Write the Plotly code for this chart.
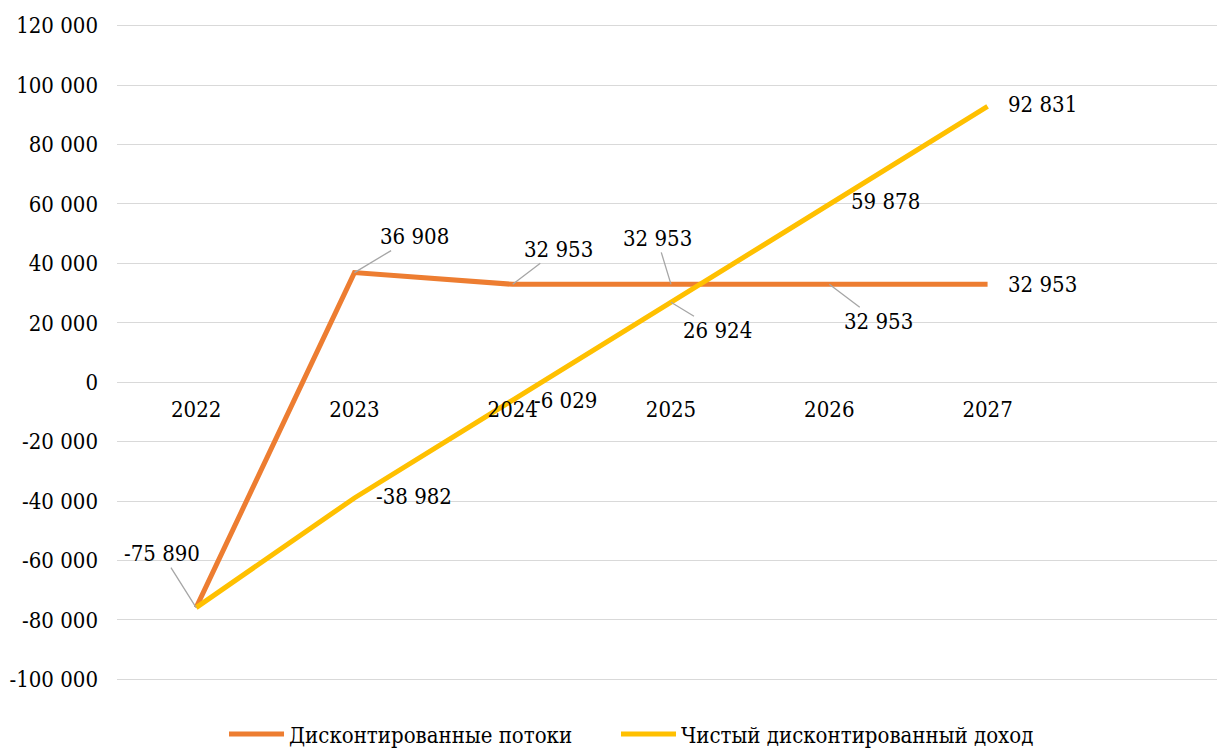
import plotly.graph_objects as go

years = [2022, 2023, 2024, 2025, 2026, 2027]
discounted_flows = [-75890, 36908, 32953, 32953, 32953, 32953]
npv = [-75890, -38982, -6029, 26924, 59878, 92831]
series_names = ["Дисконтированные потоки", "Чистый дисконтированный доход"]
y_tick_vals = [120000, 100000, 80000, 60000, 40000, 20000, 0, -20000, -40000, -60000, -80000, -100000]
y_tick_text = ["120 000", "100 000", "80 000", "60 000", "40 000", "20 000", "0",
               "-20 000", "-40 000", "-60 000", "-80 000", "-100 000"]

ORANGE = "#ED7D31"
YELLOW = "#FFC000"
FONT = "DejaVu Serif Condensed, DejaVu Serif"
FS = 22


def fmt(v):
    return f"{v:,}".replace(",", " ")


fig = go.Figure()
fig.add_trace(go.Scatter(x=years, y=discounted_flows, mode="lines", name=series_names[0],
                         line=dict(color=ORANGE, width=5), legend="legend"))
fig.add_trace(go.Scatter(x=years, y=npv, mode="lines", name=series_names[1],
                         line=dict(color=YELLOW, width=5), legend="legend2"))

orange_offsets = [(-34, -54, True), (60, -36, True), (46, -35, True), (-14, -46, True),
                  (49, 37, True), (55, 0, False)]
for x, v, (ax, ay, arr) in zip(years, discounted_flows, orange_offsets):
    if arr:
        fig.add_annotation(x=x, y=v, text=fmt(v), showarrow=True, arrowhead=0,
                           arrowcolor="#a6a6a6", arrowwidth=1.3, ax=ax, ay=ay,
                           font=dict(family=FONT, size=FS, color="#000"))
    else:
        fig.add_annotation(x=x, y=v, text=fmt(v), showarrow=False, xshift=ax, yshift=-ay,
                           font=dict(family=FONT, size=FS, color="#000"))

yellow_offsets = [None, (60, -1, False), (53, 0, False), (46, 28, True), (56, -3, False), (55, -2, False)]
for x, v, off in zip(years, npv, yellow_offsets):
    if off is None:
        continue
    ax, ay, arr = off
    if arr:
        fig.add_annotation(x=x, y=v, text=fmt(v), showarrow=True, arrowhead=0,
                           arrowcolor="#a6a6a6", arrowwidth=1.3, ax=ax, ay=ay,
                           font=dict(family=FONT, size=FS, color="#000"))
    else:
        fig.add_annotation(x=x, y=v, text=fmt(v), showarrow=False, xshift=ax, yshift=-ay,
                           font=dict(family=FONT, size=FS, color="#000"))

legend_common = dict(orientation="h", xref="container", yref="container", xanchor="left",
                     y=0.02, yanchor="middle", itemwidth=55,
                     font=dict(family=FONT, size=FS, color="#000"), bgcolor="rgba(0,0,0,0)")

ymin, ymax = -100600, 120600
fig.update_layout(
    width=1217, height=741,
    margin=dict(l=109, r=0, t=16, b=68, autoexpand=False),
    paper_bgcolor="white", plot_bgcolor="white",
    font=dict(family=FONT, size=FS, color="#000"),
    showlegend=True,
    legend=dict(x=0.1775, **legend_common),
    legend2=dict(x=0.4996, **legend_common),
    xaxis=dict(range=[2021.5, 2028.5], tickvals=years, ticktext=[str(y) for y in years],
               showgrid=False, zeroline=False, showline=False, ticks="",
               anchor="free", position=(0 - ymin) / (ymax - ymin), automargin=False,
               ticklabelstandoff=12, tickfont=dict(family=FONT, size=FS, color="#000")),
    yaxis=dict(range=[ymin, ymax], tickvals=y_tick_vals, ticktext=y_tick_text,
               showgrid=True, gridcolor="#d9d9d9", gridwidth=1.3, zeroline=False,
               showline=False, ticks="", ticklabelstandoff=18, automargin=False,
               tickfont=dict(family=FONT, size=FS, color="#000")),
)

fig.write_html("out.html")
